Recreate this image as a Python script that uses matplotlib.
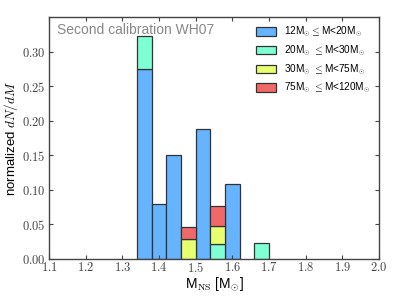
import numpy as np
import matplotlib
matplotlib.use("Agg")
import matplotlib.pyplot as plt

plt.rcParams['mathtext.fontset'] = 'cm'
plt.rcParams['font.family'] = ['Liberation Sans', 'DejaVu Sans']

# --- data ---
bin_left = [1.34, 1.38, 1.42, 1.46, 1.50, 1.54, 1.58, 1.62, 1.66]
bin_width = 0.04
m12_20 = [0.275, 0.080, 0.150, 0.0, 0.188, 0.0, 0.108, 0.0, 0.0]
m20_30 = [0.048, 0.0, 0.0, 0.0, 0.0, 0.0215, 0.0, 0.0, 0.0236]
m30_75 = [0.0, 0.0, 0.0, 0.029, 0.0, 0.026, 0.0, 0.0, 0.0]
m75_120 = [0.0, 0.0, 0.0, 0.017, 0.0, 0.0295, 0.0, 0.0, 0.0]

series = [m12_20, m20_30, m30_75, m75_120]
labels = [r"12M$_{\odot}$$\leq$M<20M$_{\odot}$",
          r"20M$_{\odot}$ $\leq$M<30M$_{\odot}$",
          r"30M$_{\odot}$ $\leq$M<75M$_{\odot}$",
          r"75M$_{\odot}$ $\leq$M<120M$_{\odot}$"]
colors = ["#66b3ff", "#7fffd4", "#e8ff70", "#f06868"]

x_ticks = [1.1, 1.2, 1.3, 1.4, 1.5, 1.6, 1.7, 1.8, 1.9, 2.0]
y_ticks = [0.00, 0.05, 0.10, 0.15, 0.20, 0.25, 0.30]

fig = plt.figure(figsize=(3.99, 3.01), dpi=100)
ax = fig.add_axes([0.123, 0.1395, 0.827, 0.804])

x = np.array(bin_left)
bottom = np.zeros(len(x))
for vals, lab, col in zip(series, labels, colors):
    vals = np.array(vals)
    keep = vals > 0
    ax.bar(x[keep], vals[keep], width=bin_width, bottom=bottom[keep], align="edge",
           color=col, edgecolor="#333333", linewidth=0.9, label=lab)
    bottom = bottom + vals

ax.set_xlim(1.1, 2.0)
ax.set_ylim(0, 0.35)
ax.set_xticks(x_ticks)
ax.set_xticklabels([f"${t:.1f}$" for t in x_ticks])
ax.set_yticks(y_ticks)
ax.set_yticklabels([f"${t:.2f}$" for t in y_ticks])
ax.tick_params(direction="in", top=True, right=True, labelsize=9, colors="#444444",
               length=3, pad=2.5)
ax.tick_params(axis="x", pad=1.5)
for s in ax.spines.values():
    s.set_color("#444444")
    s.set_linewidth(1.0)

ax.set_xlabel(r"M$_{\rm NS}$ [M$_{\odot}$]", fontsize=10)
ax.xaxis.set_label_coords(0.5, -0.068)
ax.set_ylabel(r"normalized $dN/dM$", fontsize=9.5)
ax.yaxis.set_label_coords(-0.088, 0.5)
ax.text(0.025, 0.975, "Second calibration WH07", transform=ax.transAxes,
        fontsize=10, color="#888888", va="top", ha="left")

ax.legend(loc="upper right", frameon=False, fontsize=7.2, handlelength=2.0,
          handleheight=0.9, labelspacing=0.45, borderaxespad=0.4)

fig.savefig("out.png", dpi=100)
